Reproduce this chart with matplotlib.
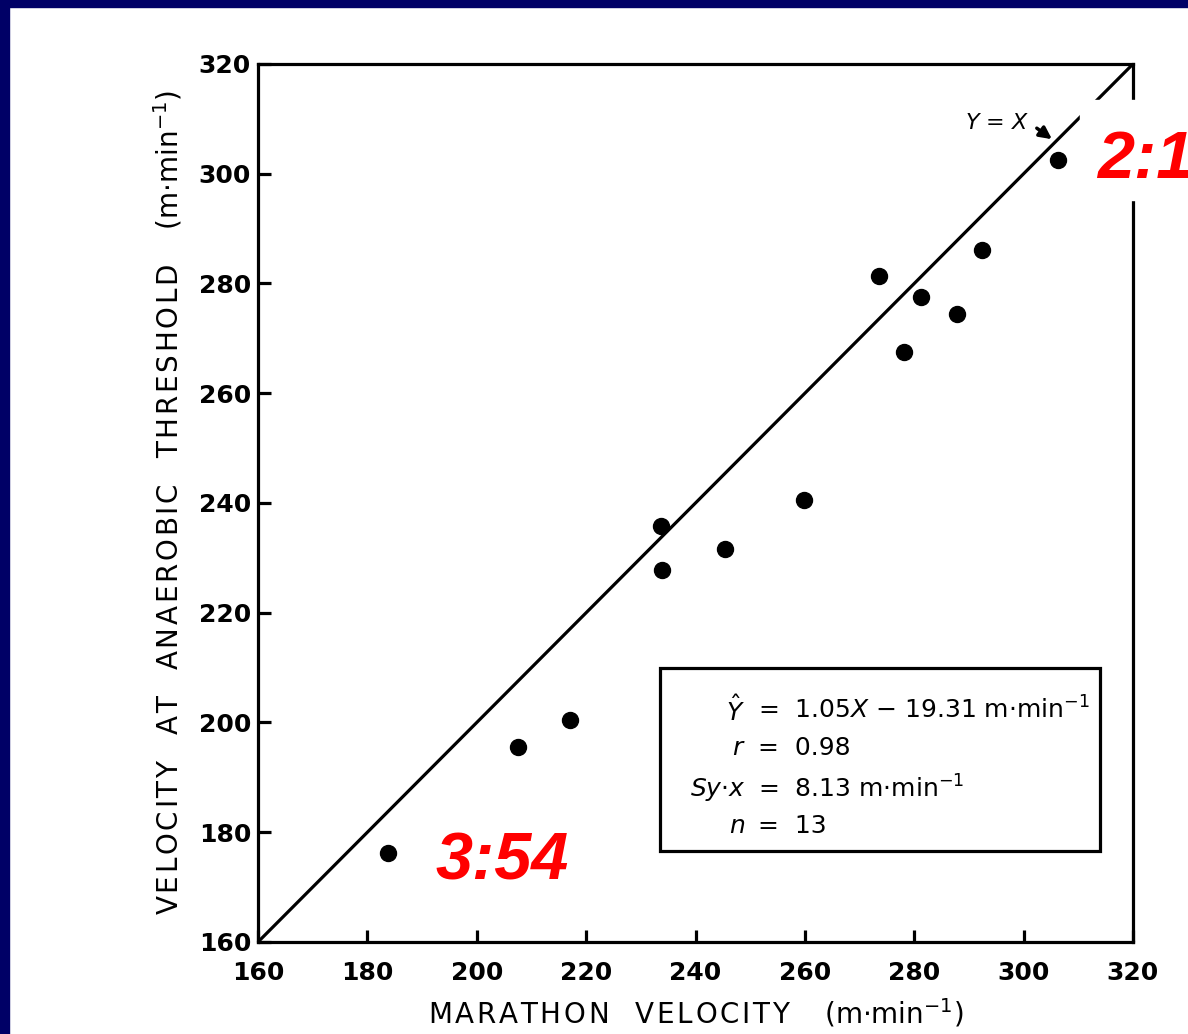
import matplotlib
matplotlib.use("Agg")
import matplotlib.pyplot as plt
from matplotlib.patches import Rectangle

# marathon velocity vs velocity at anaerobic threshold (m/min)
marathon_v = [183.8, 207.5, 217.0, 233.7, 233.9, 245.4, 259.8, 273.6, 278.1, 281.2, 287.8, 292.4, 306.3]
threshold_v = [176.2, 195.5, 200.5, 235.8, 227.8, 231.6, 240.5, 281.4, 267.5, 277.5, 274.4, 286.1, 302.5]
ticks = [160, 180, 200, 220, 240, 260, 280, 300, 320]

stat_names = [r'$\hat{Y}$', r'$r$', r'$Sy{\cdot}x$', r'$n$']
stat_values = [r'=  1.05$X$ $-$ 19.31 m$\cdot$min$^{-1}$', '=  0.98',
               r'=  8.13 m$\cdot$min$^{-1}$', '=  13']


def spaced(s):
    # old typewriter labels are letter-spaced
    return '\u200a'.join(s)


W, H = 1188, 1034
fig = plt.figure(figsize=(W / 100, H / 100), dpi=100)
fig.patch.set_facecolor('white')

ax = fig.add_axes([258 / W, 1 - 942 / H, 875 / W, 878 / H])
ax.set_xlim(160, 320)
ax.set_ylim(160, 320)

# identity line and the points
ax.plot([160, 320], [160, 320], color='black', lw=2.3, zorder=2)
ax.plot(marathon_v, threshold_v, 'o', color='black', ms=11.5, zorder=3)

for s in ax.spines.values():
    s.set_linewidth(2.3)
ax.set_xticks(ticks)
ax.set_yticks(ticks)
ax.tick_params(direction='in', length=9, width=2.3, labelsize=18)
ax.tick_params(axis='x', pad=14)
ax.tick_params(axis='y', pad=5)
for lab in ax.get_xticklabels() + ax.get_yticklabels():
    lab.set_fontweight('bold')

ax.set_xlabel(spaced('MARATHON  VELOCITY   ') + r'(m$\cdot$min$^{-1}$)', fontsize=20, labelpad=8)
ax.set_ylabel(spaced('VELOCITY  AT  ANAEROBIC  THRESHOLD   ') + r'(m$\cdot$min$^{-1}$)',
              fontsize=20, labelpad=10)

ax.text(289.3, 309.2, r'$Y$ = $X$', fontsize=16, ha='left', va='center')
ax.annotate('', xy=(305.6, 306.0), xytext=(302.0, 308.6),
            arrowprops=dict(arrowstyle='-|>', color='black', lw=2.5, mutation_scale=18))

# stats box
ax.add_patch(Rectangle((0.4594, 0.1036), 0.5029, 0.2085, transform=ax.transAxes,
                       fill=False, lw=2.3, zorder=4))
ys = [0.264, 0.221, 0.174, 0.132]
for name, val, y in zip(stat_names, stat_values, ys):
    ax.text(0.557, y, name, transform=ax.transAxes, fontsize=18, ha='right', va='center')
    ax.text(0.572, y, val, transform=ax.transAxes, fontsize=18, ha='left', va='center')

# navy frame on the left and top
fig.add_artist(Rectangle((0, 0), 9 / W, 1, transform=fig.transFigure, color='#000066', zorder=5))
fig.add_artist(Rectangle((0, 1 - 7 / H), 1, 7 / H, transform=fig.transFigure, color='#000066', zorder=5))

# red overlay labels
fig.add_artist(Rectangle((1080 / W, 1 - 200 / H), 108 / W, 100 / H, transform=fig.transFigure,
                         color='white', zorder=5))
fig.text(1097 / W, 1 - 178 / H, '2:1', color='#ff0000', fontsize=48, fontweight='bold',
         fontstyle='italic', family='Liberation Sans', ha='left', va='baseline', zorder=6)
fig.text(435 / W, 1 - 880 / H, '3:54', color='#ff0000', fontsize=48, fontweight='bold',
         fontstyle='italic', family='Liberation Sans', ha='left', va='baseline', zorder=6)

fig.savefig('out.png', dpi=100)
